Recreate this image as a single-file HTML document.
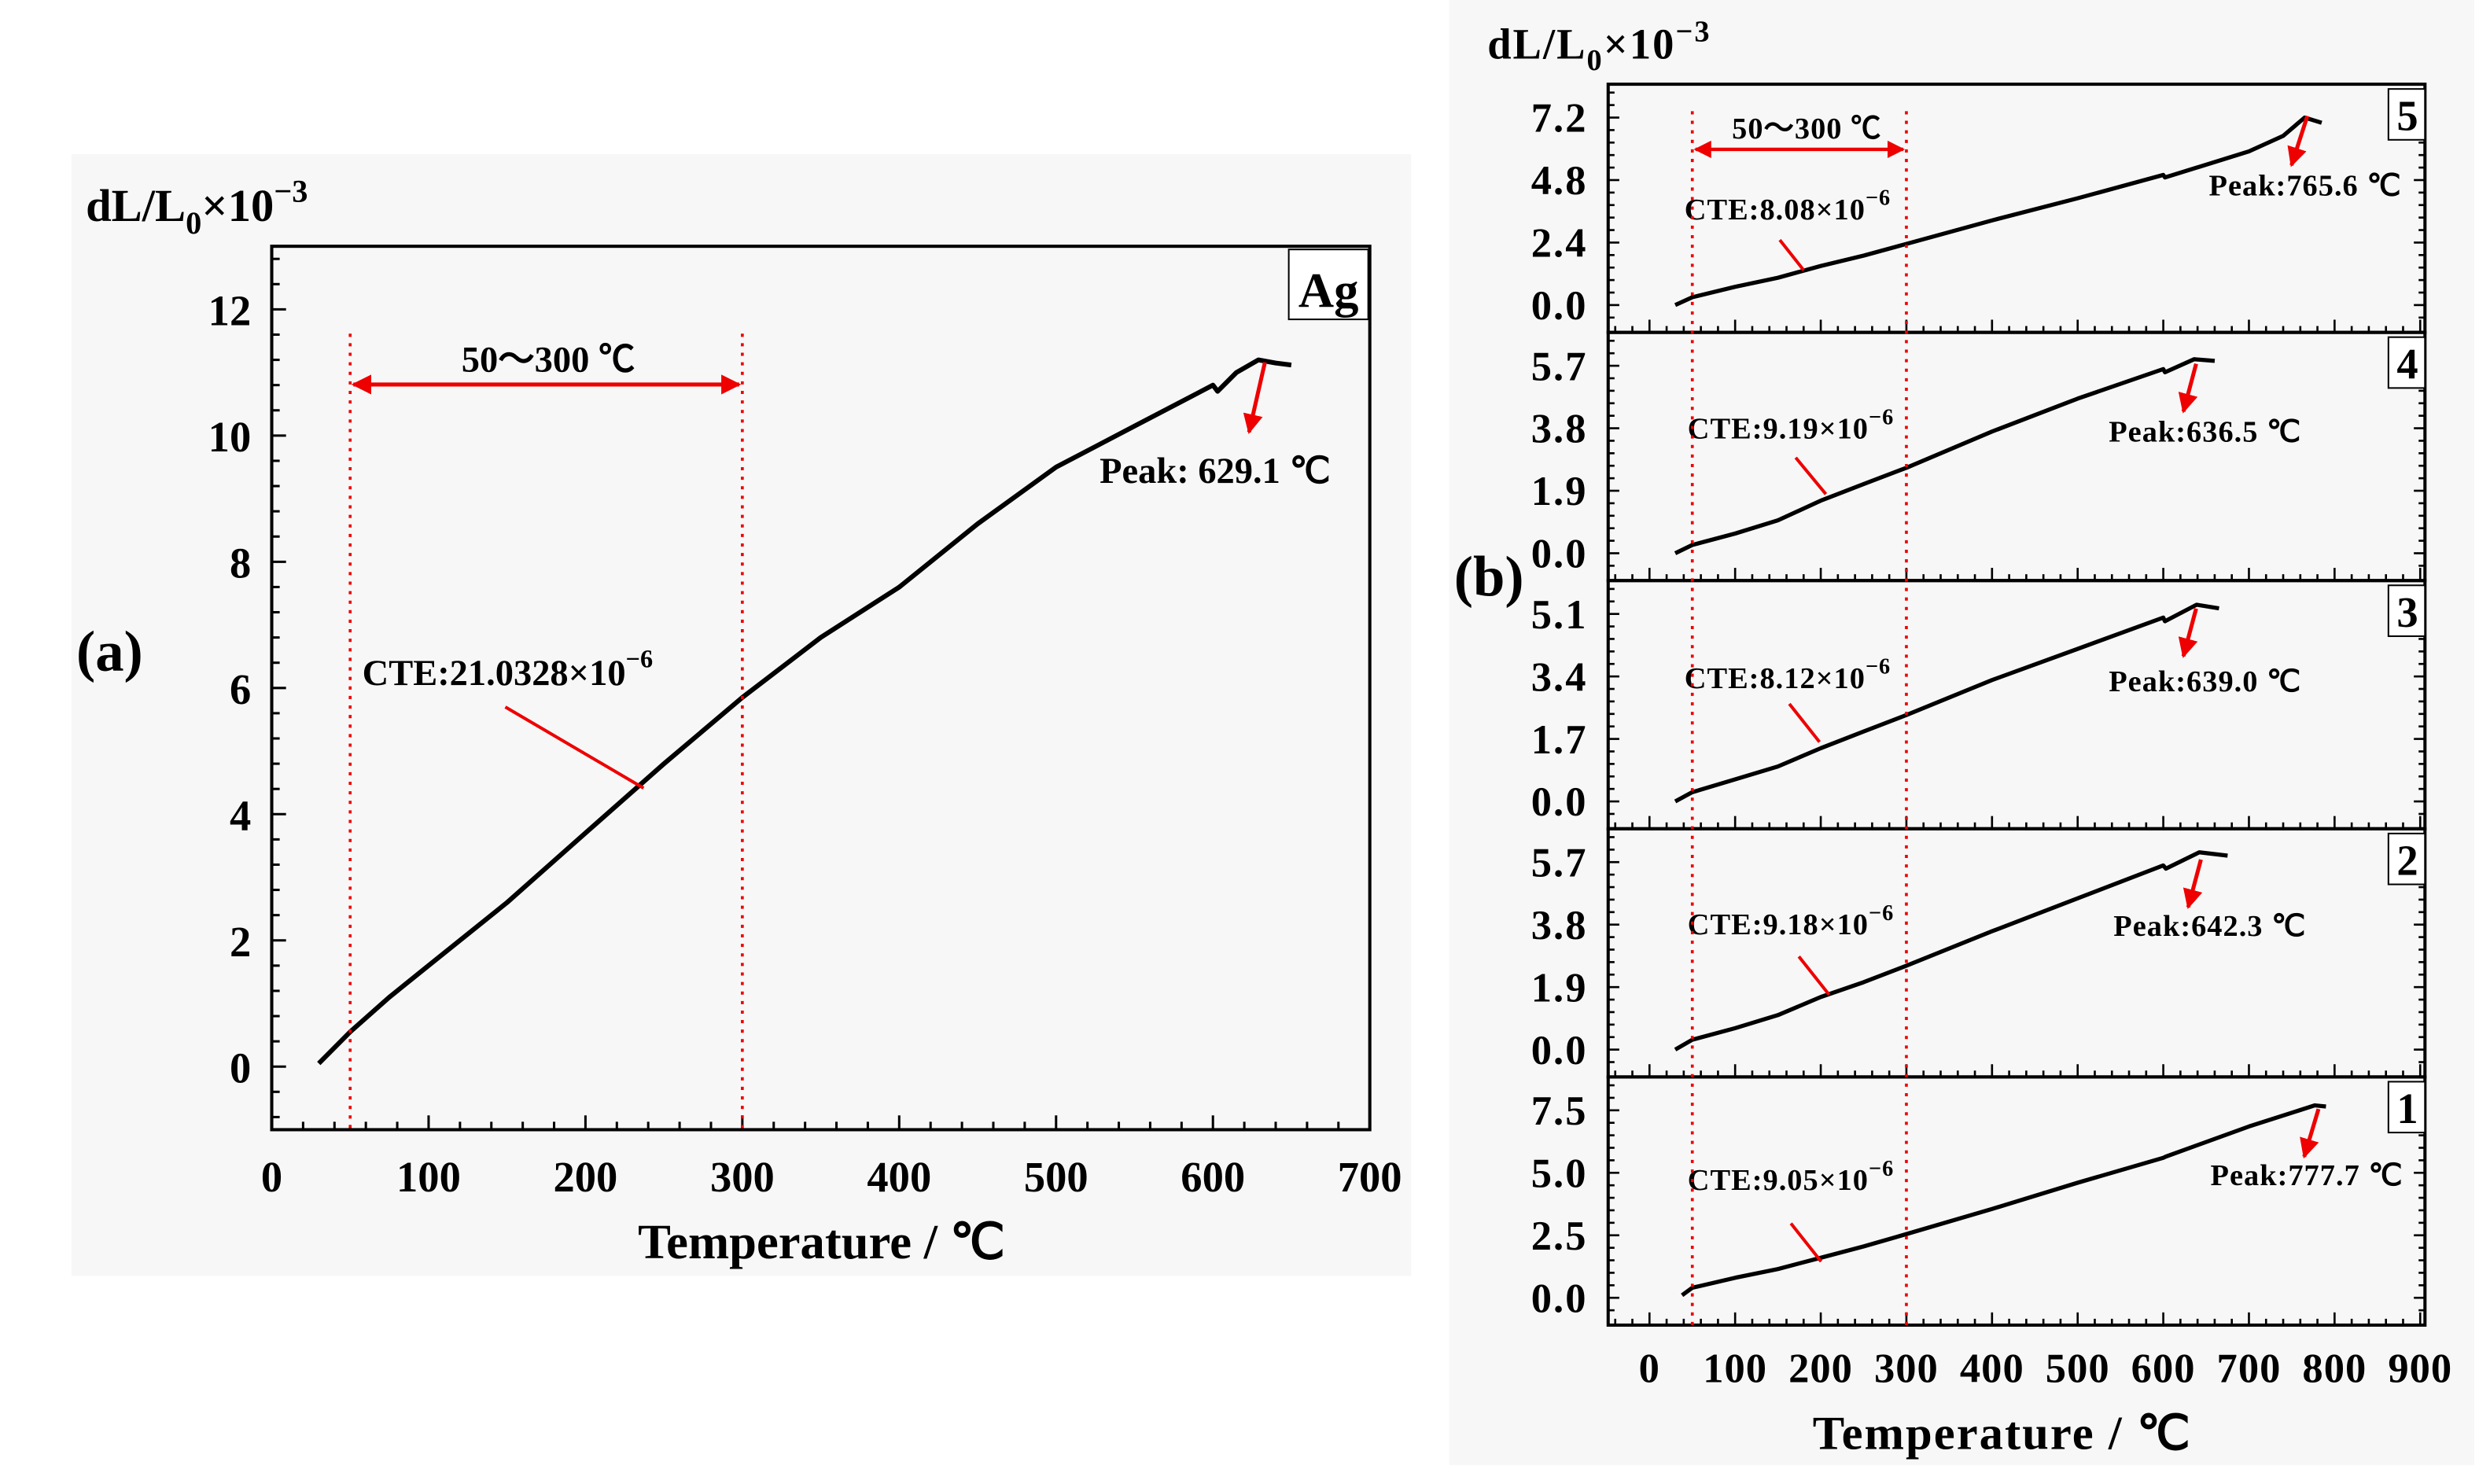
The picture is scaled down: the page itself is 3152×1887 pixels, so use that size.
<!DOCTYPE html>
<html><head><meta charset="utf-8"><style>
html,body{margin:0;padding:0;background:#fff}
svg{display:block}
text{font-family:"Liberation Serif",serif;font-weight:bold;fill:#000}
</style></head><body>
<svg id="fig" width="3152" height="1887" viewBox="0 0 1560 934" preserveAspectRatio="none" xmlns="http://www.w3.org/2000/svg">
<defs>
<marker id="ar" viewBox="0 0 10 10" refX="9" refY="5" markerWidth="5" markerHeight="5" orient="auto-start-reverse"><path d="M0,0L10,5L0,10z" fill="#e00"/></marker>
</defs>
<rect x="45" y="97" width="843" height="706" fill="#f7f7f7"/>
<rect x="912" y="0" width="645" height="922" fill="#f7f7f7"/>
<g id="ga"></g>
<g id="gb"></g>
</svg>
<script>
// ----- Panel (a) data -----
const aTemps = [30,50,75,100,150,200,250,300,350,400,450,500,550,600,603,615,629,640,650];
const aVals  = [0.05,0.55,1.1,1.6,2.6,3.7,4.8,5.85,6.8,7.6,8.6,9.5,10.15,10.8,10.7,11.0,11.2,11.15,11.12];
const aXTicks = [0,100,200,300,400,500,600,700];
const aYTicks = [0,2,4,6,8,10,12];
// ----- Panel (b) data -----
const bTemps5 = [30,50,100,150,200,250,300,400,500,600,602,700,740,765,785];
const bVals5  = [0,0.3,0.7,1.05,1.5,1.9,2.35,3.25,4.1,5.0,4.9,5.9,6.5,7.2,7.0];
const bTemps4 = [30,50,100,150,200,250,300,400,500,600,602,636,660];
const bVals4  = [0,0.25,0.6,1.0,1.6,2.1,2.6,3.7,4.7,5.6,5.5,5.9,5.85];
const bTemps3 = [30,50,100,150,200,250,300,400,500,600,602,639,665];
const bVals3  = [0,0.25,0.6,0.95,1.45,1.9,2.35,3.3,4.15,5.0,4.9,5.35,5.25];
const bTemps2 = [30,50,100,150,200,250,300,400,500,600,603,642,675];
const bVals2  = [0,0.3,0.65,1.05,1.6,2.05,2.55,3.6,4.6,5.6,5.5,6.0,5.9];
const bTemps1 = [38,50,100,150,200,250,300,400,500,600,603,700,777,790];
const bVals1  = [0.1,0.4,0.8,1.15,1.6,2.05,2.55,3.55,4.6,5.6,5.65,6.85,7.7,7.65];
const bYTicks5 = ["0.0","2.4","4.8","7.2"];
const bYTicks4 = ["0.0","1.9","3.8","5.7"];
const bYTicks3 = ["0.0","1.7","3.4","5.1"];
const bYTicks2 = ["0.0","1.9","3.8","5.7"];
const bYTicks1 = ["0.0","2.5","5.0","7.5"];
const bXTicks = [0,100,200,300,400,500,600,700,800,900];
const bCTE = ["9.05","9.18","8.12","9.19","8.08"];
const bPeak = ["777.7","642.3","639.0","636.5","765.6"];

const NS="http://www.w3.org/2000/svg";
function mk(parent,tag,attrs,txt){const e=document.createElementNS(NS,tag);for(const k in attrs)e.setAttribute(k,attrs[k]);if(txt!==undefined)e.textContent=txt;parent.appendChild(e);return e;}

// ===== Panel A =====
const ga=document.getElementById('ga');
const aL=171,aR=862,aT=155,aB=711;
const ax=t=>aL+(t-0)*(aR-aL)/700;
const ay=v=>aB-(v+1)*(aB-aT)/14;
let f=mk(ga,'rect',{x:aL,y:aT,width:aR-aL,height:aB-aT,fill:'none',stroke:'#000','stroke-width':2});


for(let i=0;i<=35;i++){const t=i*20;const len=i%5===0?9:5;let l=mk(ga,'line',{x1:ax(t),x2:ax(t),y1:aB,y2:aB-len,stroke:'#000','stroke-width':1.5});

}
aXTicks.forEach(t=>{let e=mk(ga,'text',{x:ax(t),y:750,'text-anchor':'middle','font-size':27},String(t));

});
for(let i=-2;i<=32;i++){const v=i*0.4;if(v<-1||v>13)continue;const len=i%5===0?9:5;let l=mk(ga,'line',{x1:aL,x2:aL+len,y1:ay(v),y2:ay(v),stroke:'#000','stroke-width':1.5});

}
aYTicks.forEach(v=>{let e=mk(ga,'text',{x:158,y:ay(v)+10,'text-anchor':'end','font-size':27},String(v));

});
let pa=mk(ga,'path',{d:aTemps.map((t,i)=>(i?'L':'M')+ax(t).toFixed(1)+','+ay(aVals[i]).toFixed(1)).join(''),fill:'none',stroke:'#000','stroke-width':3,'stroke-linejoin':'round'});


[50,300].forEach(t=>{let l=mk(ga,'line',{x1:ax(t),x2:ax(t),y1:210,y2:aB,stroke:'#e00','stroke-width':1.8,'stroke-dasharray':'2,4'});

});
let ra=mk(ga,'line',{x1:ax(50)+2,x2:ax(300)-2,y1:242,y2:242,stroke:'#e00','stroke-width':2.5,'marker-start':'url(#ar)','marker-end':'url(#ar)'});


let ya=mk(ga,'rect',{x:811,y:157,width:50,height:44,fill:'#fff',stroke:'#000','stroke-width':1});


let la=mk(ga,'line',{x1:318,x2:405,y1:445,y2:496,stroke:'#e00','stroke-width':2});


let pk=mk(ga,'line',{x1:796,x2:786,y1:228,y2:272,stroke:'#e00','stroke-width':2.5,'marker-end':'url(#ar)'});



// ===== Panel B =====
const gb=document.getElementById('gb');
const bL=1012,bR=1526,top0=53,ph=156.2;
const bx=t=>1038+t*(1523-1038)/900;
const panels=[
 {n:5,T:bTemps5,V:bVals5,tk:bYTicks5},
 {n:4,T:bTemps4,V:bVals4,tk:bYTicks4},
 {n:3,T:bTemps3,V:bVals3,tk:bYTicks3},
 {n:2,T:bTemps2,V:bVals2,tk:bYTicks2},
 {n:1,T:bTemps1,V:bVals1,tk:bYTicks1}];
const cteOff=[{lx:1060,ly:138,x1:1120,y1:151,x2:1135,y2:170,px:1390,py:123,a1:[1452,73],a2:[1442,104]},
 {lx:1062,ly:276,x1:1130,y1:288,x2:1149,y2:311,px:1327,py:278,a1:[1382,229],a2:[1374,259]},
 {lx:1060,ly:433,x1:1126,y1:443,x2:1145,y2:467,px:1327,py:435,a1:[1382,383],a2:[1374,413]},
 {lx:1062,ly:588,x1:1132,y1:602,x2:1151,y2:626,px:1330,py:589,a1:[1385,541],a2:[1377,571]},
 {lx:1062,ly:749,x1:1127,y1:770,x2:1146,y2:794,px:1391,py:746,a1:[1459,698],a2:[1450,728]}];
panels.forEach((p,k)=>{
 const pt=top0+k*ph, pb=pt+ph;
 const mx=parseFloat(p.tk[p.tk.length-1]);
 const by=v=>pt+139-v*(118/mx);
 let fr=mk(gb,'rect',{x:bL,y:pt,width:bR-bL,height:ph,fill:'none',stroke:'#000','stroke-width':2});
 
 
 const step=mx/3/5;
 for(let i=-10;i<=25;i++){const v=i*step;const y=by(v);if(y<pt+2||y>pb-2)continue;const len=(i%5===0)?7:4;
  let l1=mk(gb,'line',{x1:bL,x2:bL+len,y1:y,y2:y,stroke:'#000','stroke-width':1.3});
  
  
  let l2=mk(gb,'line',{x1:bR,x2:bR-len,y1:y,y2:y,stroke:'#000','stroke-width':1.3});
  
  }
 p.tk.forEach(s=>{let e=mk(gb,'text',{x:999,y:by(parseFloat(s))+9,'text-anchor':'end','font-size':26,'letter-spacing':1},s);
  
  });
 for(let i=-2;i<=45;i++){const t=i*20;const x=bx(t);if(x<bL+1||x>bR-1)continue;const len=i%5===0?8:4;let l=mk(gb,'line',{x1:x,x2:x,y1:pb,y2:pb-len,stroke:'#000','stroke-width':1.3});
  
  }
 let c=mk(gb,'path',{d:p.T.map((t,i)=>(i?'L':'M')+bx(t).toFixed(1)+','+by(p.V[i]).toFixed(1)).join(''),fill:'none',stroke:'#000','stroke-width':2.6,'stroke-linejoin':'round'});
 
 
 let nb=mk(gb,'rect',{x:1503,y:pt+3,width:23,height:32,fill:'#fff',stroke:'#000','stroke-width':1});
 
 
 let nt=mk(gb,'text',{x:1515,y:pt+29,'text-anchor':'middle','font-size':27},String(p.n));
 
 
 const o=cteOff[k];
 let ct=mk(gb,'text',{x:o.lx,y:o.ly,'font-size':19,'letter-spacing':0.5},'CTE:'+bCTE[4-k]+'×10');
 const sup=mk(ct,'tspan',{dy:-9,'font-size':14},'−6');
 
 
 let cl=mk(gb,'line',{x1:o.x1,y1:o.y1,x2:o.x2,y2:o.y2,stroke:'#e00','stroke-width':2});
 
 
 let pl=mk(gb,'text',{x:o.px,y:o.py,'font-size':19,'letter-spacing':0.5},'Peak:'+bPeak[4-k]+' ℃');
 
 
 let pa2=mk(gb,'line',{x1:o.a1[0],y1:o.a1[1],x2:o.a2[0],y2:o.a2[1],stroke:'#e00','stroke-width':2.5,'marker-end':'url(#ar)'});
 
 
});
bXTicks.forEach(t=>{let e=mk(gb,'text',{x:bx(t),y:870,'text-anchor':'middle','font-size':26,'letter-spacing':0.5},String(t));
 
 });
[50,300].forEach(t=>{let l=mk(gb,'line',{x1:bx(t),x2:bx(t),y1:70,y2:834,stroke:'#e00','stroke-width':1.8,'stroke-dasharray':'2,4'});
 
 });
let rb=mk(gb,'line',{x1:bx(50)+2,x2:bx(300)-2,y1:94,y2:94,stroke:'#e00','stroke-width':2.2,'marker-start':'url(#ar)','marker-end':'url(#ar)'});


</script>
<svg style="position:absolute;left:0;top:0" width="3152" height="1887" viewBox="0 0 1560 934" preserveAspectRatio="none" xmlns="http://www.w3.org/2000/svg">
<text x="54" y="139" font-size="29">dL/L<tspan font-size="20" dy="8">0</tspan><tspan dy="-8">×10</tspan><tspan font-size="20" dy="-12">−3</tspan></text>
<text x="48" y="422" font-size="36">(a)</text>
<text x="517" y="792" text-anchor="middle" font-size="31">Temperature / ℃</text>
<text x="836" y="193" text-anchor="middle" font-size="31">Ag</text>
<text x="345" y="234" text-anchor="middle" font-size="23">50～300 ℃</text>
<text x="228" y="431" font-size="23">CTE:21.0328×10<tspan font-size="16" dy="-11">−6</tspan></text>
<text x="692" y="304" font-size="23">Peak: 629.1 ℃</text>
<text x="936" y="37" font-size="27" letter-spacing="1">dL/L<tspan font-size="19" dy="7">0</tspan><tspan dy="-7">×10</tspan><tspan font-size="19" dy="-11">−3</tspan></text>
<text x="915" y="375" font-size="36">(b)</text>
<text x="1260" y="912" text-anchor="middle" font-size="30" letter-spacing="1">Temperature / ℃</text>
<text x="1137" y="87" text-anchor="middle" font-size="19" letter-spacing="0.5">50～300 ℃</text>
</svg>
</body></html>
